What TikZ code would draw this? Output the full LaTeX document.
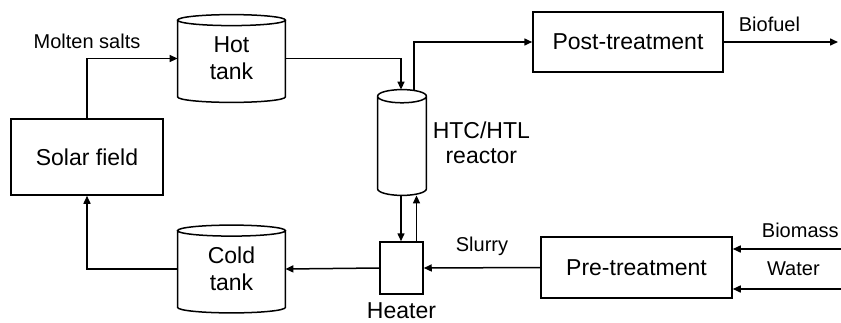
\documentclass[tikz,border=0pt]{standalone}
\usepackage{fontspec}
\setmainfont{Liberation Sans}
\usetikzlibrary{arrows.meta,positioning,calc}
\tikzset{
  unit/.style ={draw, align=center, font=\fontsize{11.5}{13.5}\selectfont, inner sep=0pt, line width=0.75pt},
  tank/.style ={align=center, font=\fontsize{11.5}{13.5}\selectfont, inner sep=0pt,
                minimum width=53.5pt, minimum height=43.5pt},
  shell/.style={line width=0.75pt},
  lbl/.style  ={align=center, font=\fontsize{10}{12}\selectfont, inner sep=1pt},
  arr/.style  ={-{Triangle[length=4pt,width=3.5pt]}, line width=0.75pt},
}
% outline of a standing drum round a named node: #1 node, #2 half height of the end ellipse
\newcommand\tankshell[2]{%
  \draw[shell] let \p1=($(#1.east)-(#1.west)$) in
    ([yshift=-#2]#1.north west) -- ([yshift=#2]#1.south west)
    arc[start angle=180, end angle=360, x radius=0.5*\x1, y radius=#2]
    -- ([yshift=-#2]#1.north east)
    ([yshift=-#2]#1.north) ellipse[x radius=0.5*\x1, y radius=#2];}

\begin{document}
\begin{tikzpicture}[x=0.5pt, y=-0.5pt]
  \useasboundingbox (0,0) rectangle (841,322);

  % ---- solar loop: field, hot and cold storage ----
  \node[unit, minimum width=76pt, minimum height=38pt] (solar) at (87,157) {Solar field};
  \node[tank] (hot) at (231.5,58.5) {Hot\\tank};
  \node[tank] (cold) at (231.5,269) {Cold\\tank};
  \tankshell{hot}{2.75pt}
  \tankshell{cold}{2.75pt}

  % ---- reactor and heater ----
  \node[tank, minimum width=24pt, minimum height=52.5pt] (reactor) at (402,142.5) {};
  \tankshell{reactor}{3.3pt}
  \node[lbl, font=\fontsize{11.5}{12.5}\selectfont, right=2pt of reactor] (reactlbl) {HTC/HTL\\reactor};
  \node[unit, minimum width=21.5pt, minimum height=26pt] (heater) at (401.5,268) {};
  \node[lbl, font=\fontsize{11.5}{13.5}\selectfont, below=3pt of heater] (heatlbl) {Heater};

  % ---- treatment steps ----
  \node[unit, minimum width=95pt, minimum height=30pt] (post) at (628,42) {Post-treatment};
  \node[unit, minimum width=95.5pt, minimum height=30.5pt] (pre) at (636.5,267.5) {Pre-treatment};
  \coordinate (fuel) at (838,42);
  \coordinate (bio) at (841,249);
  \coordinate (wat) at (841,289);

  % ---- flows ----
  \draw[arr] (solar.north) |- node[lbl, pos=0.5, above=3.5pt] (salts) {Molten salts} (hot.west);
  \draw[arr] (hot.east) -| ([xshift=-0.5pt]reactor.north);
  \draw[arr] ([xshift=6pt]reactor.north) |- (post.west);
  \draw[arr] (post.east) -- node[lbl, pos=0.4, above=4pt] (biofuel) {Biofuel} (fuel);
  \draw[arr] ([xshift=-0.5pt]reactor.south) -- ([xshift=-0.5pt]reactor.south |- heater.north);
  \draw[arr] ([xshift=7.5pt]heater.north) -- ([xshift=7.5pt]heater.north |- reactor.south);
  \draw[arr] (heater.west) -- (cold.east);
  \draw[arr] (cold.west) -| (solar.south);
  \draw[arr] (pre.west) -- node[lbl, above=4.5pt] (slurry) {Slurry} (heater.east);
  \draw[arr] (bio) -- node[lbl, pos=0.376, above=4.5pt] (biomass) {Biomass} (bio -| pre.east);
  \draw[arr] (wat) -- node[lbl, pos=0.44, above=5.5pt] (water) {Water} (wat -| pre.east);
\end{tikzpicture}
\end{document}
